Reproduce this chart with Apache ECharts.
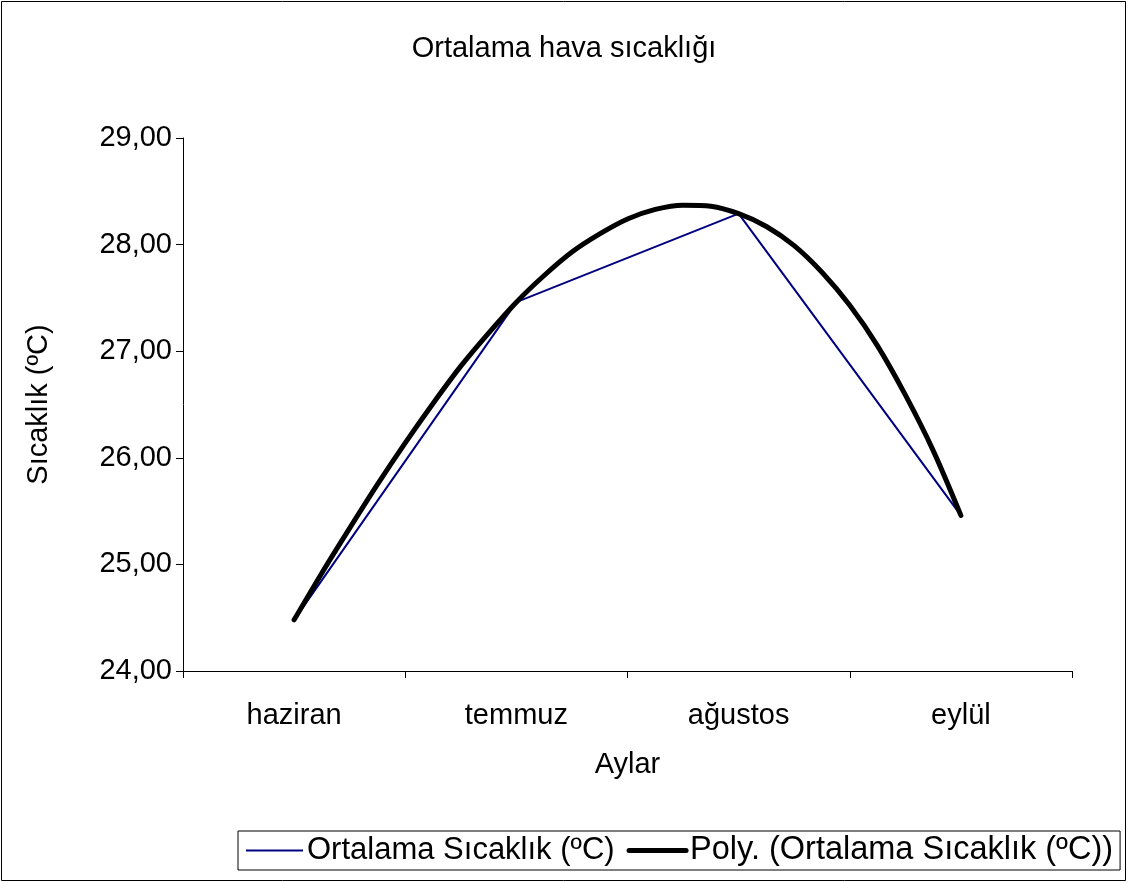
<!DOCTYPE html>
<html>
<head>
<meta charset="utf-8">
<title>Ortalama hava sıcaklığı</title>
<script src="https://cdn.jsdelivr.net/npm/echarts@6/dist/echarts.min.js"></script>
<style>
  html, body { margin: 0; padding: 0; background: #fff; }
  #main { width: 1128px; height: 883px; }
</style>
</head>
<body>
<div id="main"></div>
<script>
// months and monthly mean temperature
var months = ['haziran', 'temmuz', 'ağustos', 'eylül'];
var temps = [24.48, 27.46, 28.29, 25.46];

// polynomial trendline, sampled from the drawn curve every 1/8 month (x = month index)
var trendX = [0, 0.125, 0.25, 0.375, 0.5, 0.625, 0.75, 0.875, 1, 1.125, 1.25, 1.375, 1.5,
              1.625, 1.75, 1.875, 2, 2.125, 2.25, 2.375, 2.5, 2.625, 2.75, 2.875, 3];
var trendY = [24.48, 24.92, 25.34, 25.75, 26.14, 26.51, 26.86, 27.17, 27.46, 27.71, 27.93, 28.10, 28.24,
              28.33, 28.37, 28.36, 28.29, 28.17, 27.99, 27.74, 27.43, 27.05, 26.59, 26.07, 25.46];

var yTicks = { min: 24, max: 29, interval: 1 };

var FONT = 'Liberation Sans, Arial, sans-serif';
var FS = 29;

var myChart = echarts.init(document.getElementById('main'), null, { renderer: 'canvas' });

var trendData = trendX.map(function (x, i) { return [x, trendY[i]]; });

var option = {
  backgroundColor: '#fff',
  animation: false,
  textStyle: { fontFamily: FONT, color: '#000' },
  graphic: [
    {
      type: 'rect',
      shape: { x: 1.5, y: 1.5, width: 1124, height: 879 },
      style: { fill: 'none', stroke: '#000', lineWidth: 1 },
      silent: true
    }
  ],
  title: {
    text: 'Ortalama hava sıcaklığı',
    left: 'center',
    top: 29,
    textStyle: { fontFamily: FONT, fontSize: FS, fontWeight: 'normal', color: '#000' }
  },
  legend: {
    left: 238,
    top: 831,
    padding: [3, 7, 3, 7],
    borderColor: '#000',
    borderWidth: 1,
    itemWidth: 57,
    itemHeight: 14,
    itemGap: 12,
    itemStyle: { opacity: 0 },
    textStyle: { fontFamily: FONT, fontSize: 31, color: '#000', padding: [0, 0, 0, -1] },
    data: [
      { name: 'Ortalama Sıcaklık (ºC)', lineStyle: { color: '#000080', width: 2 } },
      {
        name: 'Poly. (Ortalama Sıcaklık (ºC))',
        lineStyle: { color: '#000', width: 5 },
        textStyle: { fontSize: 32.5 }
      }
    ]
  },
  grid: { left: 183, right: 56, top: 138, bottom: 212 },
  xAxis: [
    {
      type: 'category',
      data: months,
      boundaryGap: true,
      name: 'Aylar',
      nameLocation: 'middle',
      nameGap: 79,
      nameTextStyle: { fontFamily: FONT, fontSize: FS, color: '#000' },
      axisLine: { lineStyle: { color: '#000', width: 1 } },
      axisTick: { show: true, length: 7, lineStyle: { color: '#000' } },
      axisLabel: { margin: 30, fontFamily: FONT, fontSize: FS, color: '#000' },
      splitLine: { show: false }
    },
    {
      type: 'value',
      min: -0.5,
      max: 3.5,
      show: false
    }
  ],
  yAxis: {
    type: 'value',
    min: yTicks.min,
    max: yTicks.max,
    interval: yTicks.interval,
    name: 'Sıcaklık (ºC)',
    nameLocation: 'middle',
    nameGap: 130,
    nameTextStyle: { fontFamily: FONT, fontSize: FS, color: '#000' },
    axisLine: { show: true, onZero: false, lineStyle: { color: '#000', width: 1 } },
    axisTick: { show: true, length: 7, lineStyle: { color: '#000' } },
    axisLabel: {
      margin: 11,
      fontFamily: FONT,
      fontSize: FS,
      color: '#000',
      formatter: function (v) { return v.toFixed(2).replace('.', ','); }
    },
    splitLine: { show: false }
  },
  series: [
    {
      name: 'Ortalama Sıcaklık (ºC)',
      type: 'line',
      data: temps,
      xAxisIndex: 0,
      symbol: 'none',
      color: '#000080',
      lineStyle: { color: '#000080', width: 2 },
      z: 2
    },
    {
      name: 'Poly. (Ortalama Sıcaklık (ºC))',
      type: 'line',
      data: trendData,
      xAxisIndex: 1,
      symbol: 'none',
      smooth: 0.3,
      color: '#000',
      lineStyle: { color: '#000', width: 5, cap: 'round' },
      z: 3
    }
  ]
};

myChart.setOption(option);
window.addEventListener('resize', myChart.resize);
</script>
</body>
</html>
